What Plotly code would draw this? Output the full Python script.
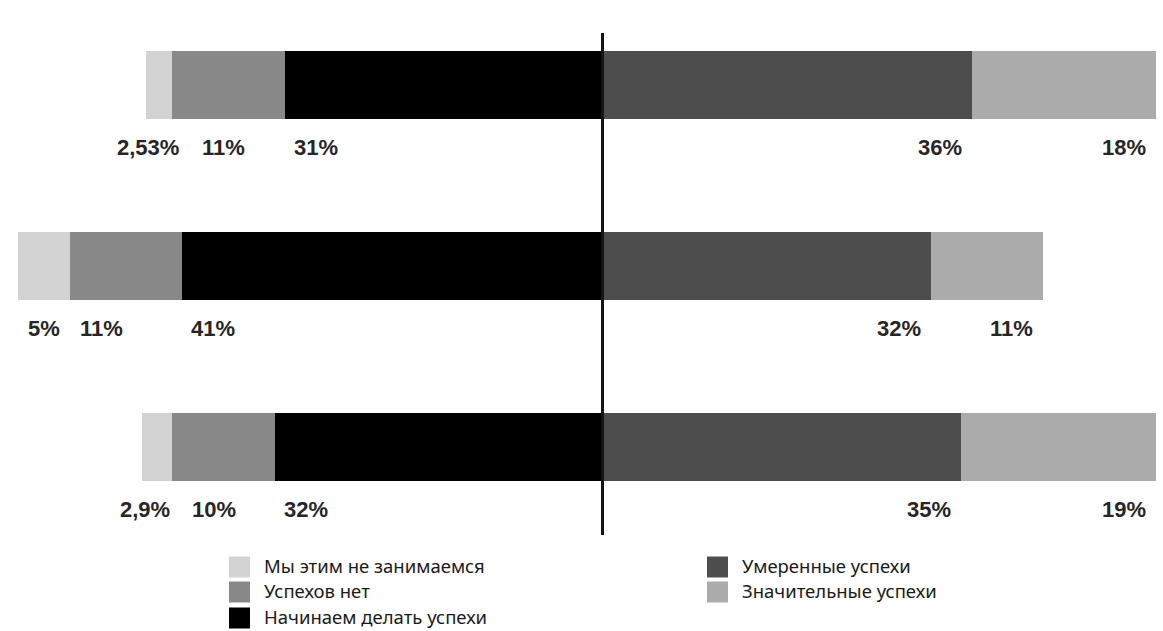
import plotly.graph_objects as go

# ---- data ----
rows = [0, 1, 2]
not_engaged = [2.53, 5, 2.9]        # Мы этим не занимаемся
no_success = [11, 11, 10]           # Успехов нет
starting = [31, 41, 32]             # Начинаем делать успехи
moderate = [36, 32, 35]             # Умеренные успехи
significant = [18, 11, 19]          # Значительные успехи

names_left = ["Мы этим не занимаемся", "Успехов нет", "Начинаем делать успехи"]
names_right = ["Умеренные успехи", "Значительные успехи"]

colors = {
    "Мы этим не занимаемся": "#D2D2D2",
    "Успехов нет": "#888888",
    "Начинаем делать успехи": "#000000",
    "Умеренные успехи": "#4D4D4D",
    "Значительные успехи": "#ABABAB",
}

W, H = 1163, 631
PX_PER_PCT = 10.25
CENTER_PX = 602.5
ROW0_PX, ROW_STEP = 85, 181
BAR_W = 68 / ROW_STEP

def fmt(v):
    return f"{v:g}".replace(".", ",") + "%"

fig = go.Figure()
# left side (negative), stacked outward from zero
for name, vals in [("Начинаем делать успехи", starting),
                   ("Успехов нет", no_success),
                   ("Мы этим не занимаемся", not_engaged)]:
    fig.add_trace(go.Bar(y=rows, x=[-v for v in vals], orientation="h", name=name,
                         marker=dict(color=colors[name], line=dict(width=0)),
                         width=BAR_W, showlegend=False, hoverinfo="skip"))
for name, vals in [("Умеренные успехи", moderate), ("Значительные успехи", significant)]:
    fig.add_trace(go.Bar(y=rows, x=vals, orientation="h", name=name,
                         marker=dict(color=colors[name], line=dict(width=0)),
                         width=BAR_W, showlegend=False, hoverinfo="skip"))

# value labels below bars
label_font = dict(family="Liberation Sans, Arial, sans-serif", size=22, color="#262626")
label_dy = 0.345
nudge_light = [-31, 8, -24]
nudge_gray = [28, 8, 18]
for i in rows:
    e_black = starting[i]
    e_gray = e_black + no_success[i]
    e_light = e_gray + not_engaged[i]
    for edge, val, shift in [(e_black, starting[i], 7),
                             (e_gray, no_success[i], nudge_gray[i]),
                             (e_light, not_engaged[i], nudge_light[i])]:
        fig.add_annotation(x=-edge, y=i + label_dy, text=f"<b>{fmt(val)}</b>",
                           xanchor="left", yanchor="middle", xshift=shift,
                           showarrow=False, font=label_font)
    r1 = moderate[i]
    r2 = r1 + significant[i]
    for edge, val in [(r1, moderate[i]), (r2, significant[i])]:
        fig.add_annotation(x=edge, y=i + label_dy, text=f"<b>{fmt(val)}</b>",
                           xanchor="right", yanchor="middle", xshift=-8,
                           showarrow=False, font=label_font)

# center line
fig.add_shape(type="line", x0=0, x1=0, y0=-0.287, y1=2.486, xref="x", yref="y",
              line=dict(color="#151515", width=3), layer="above")

# manual legend
leg_font = dict(family="Noto Sans, Open Sans, sans-serif", size=18.5, color="#1a1a1a")
def px2x(px): return px / W
def px2y(py): return 1 - py / H
leg_items = [(names_left[0], 229, 567), (names_left[1], 229, 592), (names_left[2], 229, 618),
             (names_right[0], 707, 567), (names_right[1], 707, 592)]
for name, lx, ly in leg_items:
    fig.add_shape(type="rect", xref="paper", yref="paper",
                  x0=px2x(lx), x1=px2x(lx + 21), y0=px2y(ly - 10.5), y1=px2y(ly + 10.5),
                  fillcolor=colors[name], line=dict(width=0))
    fig.add_annotation(xref="paper", yref="paper", x=px2x(lx + 33), y=px2y(ly - 2),
                       text=name, xanchor="left", yanchor="middle", showarrow=False,
                       font=leg_font)

fig.update_layout(
    width=W, height=H, margin=dict(l=0, r=0, t=0, b=0),
    barmode="relative", bargap=0,
    plot_bgcolor="white", paper_bgcolor="white",
    xaxis=dict(range=[-CENTER_PX / PX_PER_PCT, (W - CENTER_PX) / PX_PER_PCT],
               visible=False, showgrid=False, zeroline=False),
    yaxis=dict(range=[(H - ROW0_PX) / ROW_STEP, -ROW0_PX / ROW_STEP],
               visible=False, showgrid=False, zeroline=False),
    showlegend=False,
)

fig.write_html("out.html", config={"displayModeBar": False},
               post_script="document.body.style.margin='0';document.body.style.overflow='hidden';")
